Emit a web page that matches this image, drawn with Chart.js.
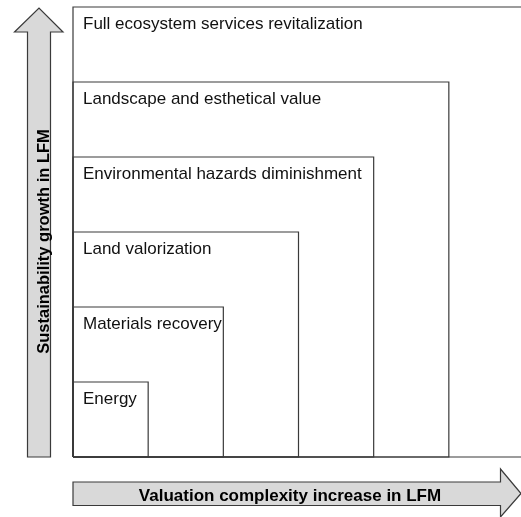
<!DOCTYPE html>
<html>
<head>
<meta charset="utf-8">
<script src="https://cdn.jsdelivr.net/npm/chart.js@4/dist/chart.umd.min.js"></script>
<style>
  html,body{margin:0;padding:0;background:#fff;}
  #wrap{width:521px;height:517px;}
</style>
</head>
<body>
<div id="wrap"><canvas id="c"></canvas></div>
<script>
// levels, from the innermost box outwards
const levels = ['Energy', 'Materials recovery', 'Land valorization',
  'Environmental hazards diminishment', 'Landscape and esthetical value',
  'Full ecosystem services revitalization'];
const complexity = [1, 2, 3, 4, 5, 6];     // x extent of each box
const sustainability = [1, 2, 3, 4, 5, 6]; // y extent of each box
const yAxisTitle = 'Sustainability growth in LFM';
const xAxisTitle = 'Valuation complexity increase in LFM';

const LINE = '#3a3a3a';
const FILL = '#d9d9d9';

const datasets = levels.map((name, i) => ({
  label: name,
  data: [
    {x: 0, y: 0}, {x: 0, y: sustainability[i]},
    {x: complexity[i], y: sustainability[i]}, {x: complexity[i], y: 0}, {x: 0, y: 0}
  ],
  showLine: true,
  borderColor: LINE,
  borderWidth: 1.2,
  pointRadius: 0,
  fill: false,
  clip: false
}));

const boxLabels = {
  id: 'boxLabels',
  afterDatasetsDraw(chart) {
    const {ctx, scales: {x, y}} = chart;
    ctx.save();
    ctx.font = '17px "Liberation Sans", Arial, sans-serif';
    ctx.fillStyle = '#111';
    ctx.textAlign = 'left';
    ctx.textBaseline = 'alphabetic';
    levels.forEach((name, i) => {
      ctx.fillText(name, x.getPixelForValue(0) + 10, y.getPixelForValue(sustainability[i]) + 22);
    });
    ctx.restore();
  }
};

const arrows = {
  id: 'arrows',
  afterDraw(chart) {
    const {ctx, chartArea: a} = chart;
    ctx.save();
    ctx.fillStyle = FILL;
    ctx.strokeStyle = LINE;
    ctx.lineWidth = 1.2;
    // vertical arrow
    ctx.beginPath();
    ctx.moveTo(27.5, a.bottom);
    ctx.lineTo(27.5, 32);
    ctx.lineTo(14.5, 32);
    ctx.lineTo(39, 8);
    ctx.lineTo(63, 32);
    ctx.lineTo(50.5, 32);
    ctx.lineTo(50.5, a.bottom);
    ctx.closePath();
    ctx.fill(); ctx.stroke();
    // horizontal arrow
    ctx.beginPath();
    ctx.moveTo(a.left, 482);
    ctx.lineTo(500.5, 482);
    ctx.lineTo(500.5, 469);
    ctx.lineTo(521, 493.5);
    ctx.lineTo(500.5, 517);
    ctx.lineTo(500.5, 505.5);
    ctx.lineTo(a.left, 505.5);
    ctx.closePath();
    ctx.fill(); ctx.stroke();
    ctx.fillStyle = '#000';
    ctx.textAlign = 'center';
    ctx.textBaseline = 'alphabetic';
    ctx.font = 'bold 17px "Liberation Sans", Arial, sans-serif';
    ctx.fillText(xAxisTitle, 290, 500.5);
    ctx.font = 'bold 16.5px "Liberation Sans", Arial, sans-serif';
    ctx.translate(49, 241.5);
    ctx.rotate(-Math.PI / 2);
    ctx.fillText(yAxisTitle, 0, 0);
    ctx.restore();
  }
};

new Chart(document.getElementById('c'), {
  type: 'scatter',
  data: {datasets},
  options: {
    responsive: true,
    maintainAspectRatio: false,
    animation: false,
    layout: {padding: {left: 73, top: 7, right: 0, bottom: 60}},
    scales: {
      x: {type: 'linear', min: 0, max: 5.96, display: false},
      y: {type: 'linear', min: 0, max: 6, display: false}
    },
    plugins: {legend: {display: false}, tooltip: {enabled: false}}
  },
  plugins: [boxLabels, arrows]
});
</script>
</body>
</html>
